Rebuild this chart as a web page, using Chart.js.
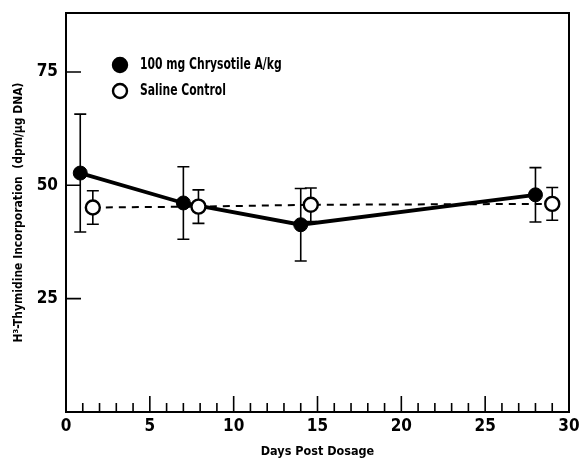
<!DOCTYPE html>
<html>
<head>
<meta charset="utf-8">
<script src="https://cdn.jsdelivr.net/npm/chart.js@4.4.1/dist/chart.umd.min.js"></script>
<style>
  body { margin: 0; background: #fff; }
  #wrap { width: 580px; height: 459px; }
</style>
</head>
<body>
<div id="wrap"><canvas id="thymidine" width="580" height="459"></canvas></div>
<script>
const FONT = "'Liberation Sans Narrow', 'DejaVu Sans Condensed', sans-serif";

// values
const chrysotileDays = [0.85, 7, 14, 28];
const chrysotileMean = [52.7, 46.1, 41.3, 47.9];
const chrysotileErr = [13, 8, 8, 6];

const salineDays = [1.6, 7.9, 14.6, 29];
const salineMean = [45.1, 45.3, 45.7, 45.9];
const salineErr = [3.7, 3.7, 3.7, 3.6];

const xTickValues = [0, 5, 10, 15, 20, 25, 30];
const yTickValues = [25, 50, 75];

const seriesNames = ["100 mg Chrysotile A/kg", "Saline Control"];

const toPoints = (xs, ys) => xs.map((x, i) => ({ x: x, y: ys[i] }));

// keep the plot box where the figure has it
const noEdgePadding = (s) => {
  s.paddingTop = 0; s.paddingBottom = 0; s.paddingLeft = 0; s.paddingRight = 0;
};

const extras = {
  id: "extras",
  beforeDatasetsDraw(chart) {
    const ctx = chart.ctx;
    const xs = chart.scales.x, ys = chart.scales.y;
    ctx.save();
    ctx.strokeStyle = "#000";
    ctx.lineWidth = 1.6;
    chart.data.datasets.forEach((ds) => {
      ds.data.forEach((p, i) => {
        const e = ds.errors[i];
        const px = xs.getPixelForValue(p.x);
        const top = ys.getPixelForValue(p.y + e);
        const bot = ys.getPixelForValue(p.y - e);
        ctx.beginPath();
        ctx.moveTo(px, top); ctx.lineTo(px, bot);
        ctx.moveTo(px - 6, top); ctx.lineTo(px + 6, top);
        ctx.moveTo(px - 6, bot); ctx.lineTo(px + 6, bot);
        ctx.stroke();
      });
    });
    ctx.restore();
  },
  afterDraw(chart) {
    const ctx = chart.ctx;
    const a = chart.chartArea;
    const xs = chart.scales.x, ys = chart.scales.y;
    ctx.save();
    ctx.strokeStyle = "#000";
    // frame
    ctx.lineWidth = 2;
    ctx.strokeRect(a.left, a.top, a.right - a.left, a.bottom - a.top);
    // inward ticks
    ctx.lineWidth = 1.6;
    ctx.beginPath();
    for (let d = xs.min; d <= xs.max; d++) {
      const px = xs.getPixelForValue(d);
      const len = d % 5 === 0 ? 16 : 9;
      ctx.moveTo(px, a.bottom); ctx.lineTo(px, a.bottom - len);
    }
    yTickValues.forEach((v) => {
      const py = ys.getPixelForValue(v);
      ctx.moveTo(a.left, py); ctx.lineTo(a.left + 15, py);
    });
    ctx.stroke();
    // legend
    const lx = a.left + 54, ly = a.top + 52;
    ctx.textBaseline = "middle";
    chart.data.datasets.forEach((ds, i) => {
      const cy = ly + i * 26;
      ctx.beginPath();
      ctx.arc(lx, cy, 7, 0, Math.PI * 2);
      ctx.fillStyle = ds.pointBackgroundColor;
      ctx.fill();
      ctx.lineWidth = 2.4;
      ctx.stroke();
      ctx.save();
      ctx.translate(lx + 20, cy);
      ctx.scale(0.75, 1);
      ctx.font = "bold 16px " + FONT;
      ctx.fillStyle = "#000";
      ctx.fillText(ds.label, 0, 0);
      ctx.restore();
    });
    ctx.restore();
  }
};

new Chart(document.getElementById("thymidine"), {
  type: "scatter",
  data: {
    datasets: [
      {
        label: seriesNames[0],
        data: toPoints(chrysotileDays, chrysotileMean),
        errors: chrysotileErr,
        showLine: true,
        borderColor: "#000",
        borderWidth: 3.8,
        pointRadius: 7,
        pointBackgroundColor: "#000",
        pointBorderColor: "#000",
        pointBorderWidth: 1,
        order: 1
      },
      {
        label: seriesNames[1],
        data: toPoints(salineDays, salineMean),
        errors: salineErr,
        showLine: true,
        borderColor: "#000",
        borderWidth: 2,
        borderDash: [7, 6],
        pointRadius: 7,
        pointBackgroundColor: "#fff",
        pointBorderColor: "#000",
        pointBorderWidth: 2.4,
        order: 0
      }
    ]
  },
  options: {
    responsive: false,
    animation: false,
    devicePixelRatio: 1,
    layout: { padding: { top: 13, right: 11, left: 0, bottom: 0 } },
    plugins: {
      legend: { display: false },
      tooltip: { enabled: false }
    },
    scales: {
      x: {
        type: "linear",
        min: 0,
        max: 30,
        afterBuildTicks: (s) => { s.ticks = xTickValues.map((v) => ({ value: v })); },
        afterFit: (s) => { s.height = 47; noEdgePadding(s); },
        grid: { display: false, drawTicks: false },
        border: { display: true, color: "#000", width: 2 },
        ticks: {
          color: "#000",
          padding: 4,
          maxRotation: 0,
          font: { family: FONT, size: 17, weight: "bold" }
        },
        title: {
          display: true,
          text: "Days Post Dosage",
          color: "#000",
          padding: { top: 0, bottom: 0 },
          font: { family: FONT, size: 12.5, weight: "bold" }
        }
      },
      y: {
        type: "linear",
        min: 0,
        max: 88,
        afterBuildTicks: (s) => { s.ticks = yTickValues.map((v) => ({ value: v })); },
        afterFit: (s) => { s.width = 66; noEdgePadding(s); },
        grid: { display: false, drawTicks: false },
        border: { display: true, color: "#000", width: 2 },
        ticks: {
          color: "#000",
          padding: 8,
          font: { family: FONT, size: 17, weight: "bold" }
        },
        title: {
          display: true,
          text: "H³-Thymidine Incorporation  (dpm/µg DNA)",
          color: "#000",
          padding: { top: 12, bottom: 0 },
          font: { family: FONT, size: 12, weight: "bold" }
        }
      }
    }
  },
  plugins: [extras]
});
</script>
</body>
</html>
